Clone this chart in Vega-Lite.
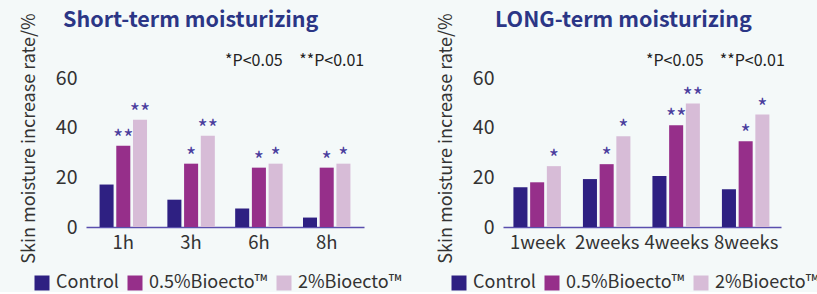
{
  "$schema": "https://vega.github.io/schema/vega-lite/v6.json",
  "background": "#f4f9f9",
  "padding": {"left": 20, "top": 10, "right": 0, "bottom": 0},
  "spacing": 35,
  "config": {
    "font": "Noto Sans CJK SC",
    "view": {"stroke": null}
  },
  "resolve": {"scale": {"color": "independent"}, "legend": {"color": "independent"}},
  "hconcat": [
    {
      "width": 278,
      "height": 149,
      "title": {"text": "Short-term moisturizing", "anchor": "start", "frame": "group", "dx": -23, "fontSize": 21.5, "fontWeight": "bold", "color": "#2b3686", "offset": -19},
      "data": {"values": [
        {"time": "1h", "series": "Control", "value": 17.1, "sig": ""},
        {"time": "1h", "series": "0.5%Bioecto™", "value": 32.7, "sig": "**"},
        {"time": "1h", "series": "2%Bioecto™", "value": 43.2, "sig": "**"},
        {"time": "3h", "series": "Control", "value": 11, "sig": ""},
        {"time": "3h", "series": "0.5%Bioecto™", "value": 25.5, "sig": "*"},
        {"time": "3h", "series": "2%Bioecto™", "value": 36.7, "sig": "**"},
        {"time": "6h", "series": "Control", "value": 7.4, "sig": ""},
        {"time": "6h", "series": "0.5%Bioecto™", "value": 23.9, "sig": "*"},
        {"time": "6h", "series": "2%Bioecto™", "value": 25.5, "sig": "*"},
        {"time": "8h", "series": "Control", "value": 3.8, "sig": ""},
        {"time": "8h", "series": "0.5%Bioecto™", "value": 23.9, "sig": "*"},
        {"time": "8h", "series": "2%Bioecto™", "value": 25.5, "sig": "*"}
      ]},
      "encoding": {
        "x": {"field": "time", "type": "nominal", "sort": ["1h", "3h", "6h", "8h"],
          "scale": {"paddingInner": 0.3, "paddingOuter": 0.2},
          "axis": {"title": null, "labelAngle": 0, "ticks": false, "domainColor": "#5a4fae", "domainWidth": 1.5, "labelFontSize": 18.5, "labelColor": "#333333", "labelPadding": 6}},
        "y": {"field": "value", "type": "quantitative", "scale": {"domain": [0, 60], "nice": false},
          "axis": {"values": [0, 20, 40, 60], "domain": false, "ticks": false, "grid": false, "labelFontSize": 19.5, "labelColor": "#333333", "labelPadding": 9,
            "title": "Skin moisture increase rate/%", "titleFontSize": 18, "titleFontWeight": "normal", "titleColor": "#333333", "titleX": -48, "titleY": 60}}
      },
      "layer": [
        {
          "mark": {"type": "bar"},
          "encoding": {
            "xOffset": {"field": "series", "type": "nominal", "sort": ["Control", "0.5%Bioecto™", "2%Bioecto™"], "scale": {"paddingInner": 0.16}},
            "color": {"field": "series", "type": "nominal",
              "scale": {"domain": ["Control", "0.5%Bioecto™", "2%Bioecto™"], "range": ["#2e2082", "#962f8a", "#d7bcd7"]},
              "legend": {"orient": "none", "legendX": -53, "legendY": 196, "direction": "horizontal", "gridAlign": "none", "title": null, "symbolType": "square", "symbolSize": 225, "symbolStrokeWidth": 0, "symbolOpacity": 1, "labelFontSize": 18, "labelColor": "#333333", "labelOffset": 5, "columnPadding": 7}}
          }
        },
        {
          "mark": {"type": "text", "baseline": "alphabetic", "dy": 0, "fontSize": 22, "color": "#4a3d9d"},
          "encoding": {
            "xOffset": {"field": "series", "type": "nominal", "sort": ["Control", "0.5%Bioecto™", "2%Bioecto™"], "scale": {"paddingInner": 0.16}},
            "text": {"field": "sig"}
          }
        },
        {
          "data": {"values": [{"time": "6h", "value": 67, "label": "*P<0.05"}]},
          "mark": {"type": "text", "fontSize": 16, "color": "#222222", "baseline": "middle", "dx": -5},
          "encoding": {"text": {"field": "label"}}
        },
        {
          "data": {"values": [{"time": "8h", "value": 67, "label": "**P<0.01"}]},
          "mark": {"type": "text", "fontSize": 16, "color": "#222222", "baseline": "middle", "dx": 5},
          "encoding": {"text": {"field": "label"}}
        }
      ]
    },
    {
      "width": 278,
      "height": 149,
      "title": {"text": "LONG-term moisturizing", "anchor": "start", "frame": "group", "dx": -8, "fontSize": 21.5, "fontWeight": "bold", "color": "#2b3686", "offset": -19},
      "data": {"values": [
        {"time": "1week", "series": "Control", "value": 16, "sig": ""},
        {"time": "1week", "series": "0.5%Bioecto™", "value": 18, "sig": ""},
        {"time": "1week", "series": "2%Bioecto™", "value": 24.5, "sig": "*"},
        {"time": "2weeks", "series": "Control", "value": 19.3, "sig": ""},
        {"time": "2weeks", "series": "0.5%Bioecto™", "value": 25.3, "sig": "*"},
        {"time": "2weeks", "series": "2%Bioecto™", "value": 36.5, "sig": "*"},
        {"time": "4weeks", "series": "Control", "value": 20.5, "sig": ""},
        {"time": "4weeks", "series": "0.5%Bioecto™", "value": 41, "sig": "**"},
        {"time": "4weeks", "series": "2%Bioecto™", "value": 49.7, "sig": "**"},
        {"time": "8weeks", "series": "Control", "value": 15.2, "sig": ""},
        {"time": "8weeks", "series": "0.5%Bioecto™", "value": 34.5, "sig": "*"},
        {"time": "8weeks", "series": "2%Bioecto™", "value": 45.3, "sig": "*"}
      ]},
      "encoding": {
        "x": {"field": "time", "type": "nominal", "sort": ["1week", "2weeks", "4weeks", "8weeks"],
          "scale": {"paddingInner": 0.3, "paddingOuter": 0.15},
          "axis": {"title": null, "labelAngle": 0, "ticks": false, "domainColor": "#5a4fae", "domainWidth": 1.5, "labelFontSize": 18.5, "labelColor": "#333333", "labelPadding": 6}},
        "y": {"field": "value", "type": "quantitative", "scale": {"domain": [0, 60], "nice": false},
          "axis": {"values": [0, 20, 40, 60], "domain": false, "ticks": false, "grid": false, "labelFontSize": 19.5, "labelColor": "#333333", "labelPadding": 9,
            "title": "Skin moisture increase rate/%", "titleFontSize": 18, "titleFontWeight": "normal", "titleColor": "#333333", "titleX": -48, "titleY": 60}}
      },
      "layer": [
        {
          "mark": {"type": "bar"},
          "encoding": {
            "xOffset": {"field": "series", "type": "nominal", "sort": ["Control", "0.5%Bioecto™", "2%Bioecto™"], "scale": {"paddingInner": 0.16}},
            "color": {"field": "series", "type": "nominal",
              "scale": {"domain": ["Control", "0.5%Bioecto™", "2%Bioecto™"], "range": ["#2e2082", "#962f8a", "#d7bcd7"]},
              "legend": {"orient": "none", "legendX": -53, "legendY": 196, "direction": "horizontal", "gridAlign": "none", "title": null, "symbolType": "square", "symbolSize": 225, "symbolStrokeWidth": 0, "symbolOpacity": 1, "labelFontSize": 18, "labelColor": "#333333", "labelOffset": 5, "columnPadding": 7}}
          }
        },
        {
          "mark": {"type": "text", "baseline": "alphabetic", "dy": 0, "fontSize": 22, "color": "#4a3d9d"},
          "encoding": {
            "xOffset": {"field": "series", "type": "nominal", "sort": ["Control", "0.5%Bioecto™", "2%Bioecto™"], "scale": {"paddingInner": 0.16}},
            "text": {"field": "sig"}
          }
        },
        {
          "data": {"values": [{"time": "4weeks", "value": 67, "label": "*P<0.05"}]},
          "mark": {"type": "text", "fontSize": 16, "color": "#222222", "baseline": "middle", "dx": -2},
          "encoding": {"text": {"field": "label"}}
        },
        {
          "data": {"values": [{"time": "8weeks", "value": 67, "label": "**P<0.01"}]},
          "mark": {"type": "text", "fontSize": 16, "color": "#222222", "baseline": "middle", "dx": 6},
          "encoding": {"text": {"field": "label"}}
        }
      ]
    }
  ]
}
